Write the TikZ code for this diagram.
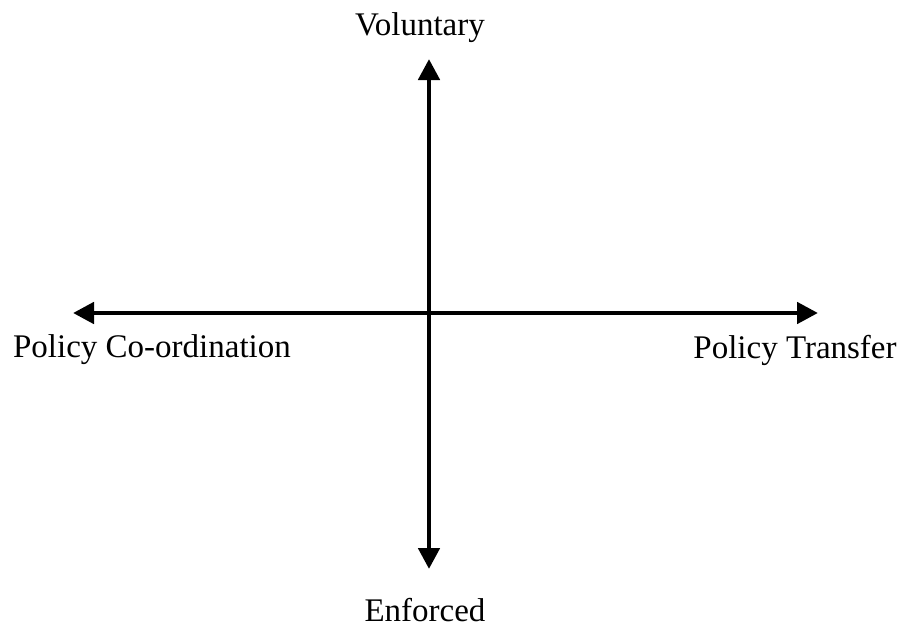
\documentclass[tikz,border=0pt]{standalone}
\usepackage{fontspec}
\setmainfont{Liberation Serif}
\usepackage{tikz}
\usetikzlibrary{arrows.meta}
\tikzset{axis/.style={line width=2.4pt,{Triangle[length=10.5pt,width=10.5pt]}-{Triangle[length=10.5pt,width=10.5pt]}}}
\tikzset{withtext/.style={font=\fontsize{16.5}{20}\selectfont,inner sep=0pt}}

\begin{document}
\begin{tikzpicture}[x=0.5pt,y=0.5pt]
            \useasboundingbox (0,0) rectangle (901,629);
            % ends of the two axes
            \coordinate (top) at (429,570);
            \coordinate (bottom) at (429,60);
            \coordinate (left) at (73,316);
            \coordinate (right) at (818,316);
            % labels
            \node[withtext] (vol) at (420,601) {Voluntary};
            \node[withtext] (enf) at (425,19) {Enforced};
            \node[withtext] (coord) at (152,279) {Policy Co-ordination};
            \node[withtext] (transfer) at (795,279) {Policy Transfer};
            % axes
            \draw[axis] (top) -- (bottom);
            \draw[axis] (left) -- (right);
        \end{tikzpicture}
\end{document}
